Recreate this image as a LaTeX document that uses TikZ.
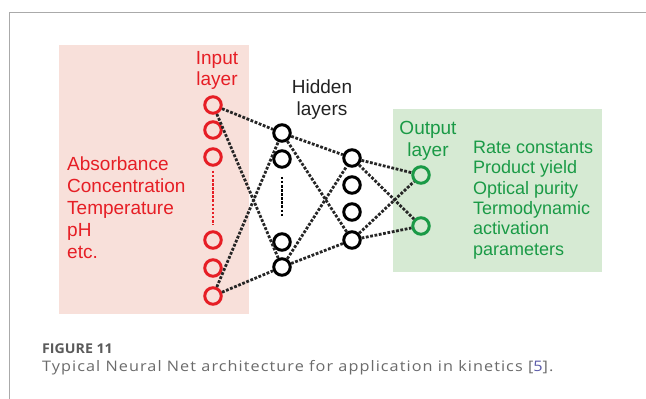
\documentclass[tikz,border=0pt]{standalone}
\usepackage{fontspec}
\setmainfont{Liberation Sans}
\newfontfamily\capfont[FakeStretch=1.12, LetterSpace=7.3]{Open Sans}
\newfontfamily\capheadfont[FakeStretch=1.05]{Open Sans}
\definecolor{inred}{HTML}{E61E25}
\definecolor{inbg}{HTML}{F8E0DA}
\definecolor{outgreen}{HTML}{1A9A46}
\definecolor{outbg}{HTML}{D6EAD3}
\definecolor{hidtxt}{HTML}{222222}
\definecolor{capgray}{HTML}{6B6B6B}
\definecolor{capdark}{HTML}{5A5A5A}
\definecolor{reflink}{HTML}{5A5AA8}
\definecolor{framegray}{HTML}{AAAAAA}
\tikzset{
  neuron/.style={circle, draw=#1, line width=3pt, minimum size=16.5pt, inner sep=0pt},
  link/.style={line width=2.8pt, dash pattern=on 2.8pt off 1.6pt, draw=black!85},
  gap/.style={line width=2.6pt, dash pattern=on 2.6pt off 1.5pt},
  bigtxt/.style={font=\fontsize{19}{22}\selectfont, align=center, inner sep=0pt},
}
\begin{document}
\begin{tikzpicture}[x=1pt, y=-1pt]
\useasboundingbox (0,0) rectangle (646,399);
% page frame
\draw[framegray, line width=1pt] (9.5,399) -- (9.5,12.5) -- (646,12.5);
% layer backgrounds
\fill[inbg] (59,45) rectangle (249,314);
\fill[outbg] (393,109) rectangle (602,272);

% input layer
\node[neuron=inred] (i1) at (213,105) {};
\node[neuron=inred] (i2) at (213,130) {};
\node[neuron=inred] (i3) at (213,157) {};
\node[neuron=inred] (i4) at (213,240) {};
\node[neuron=inred] (i5) at (213,268) {};
\node[neuron=inred] (i6) at (213,296) {};
\draw[gap, inred] ([yshift=-4pt]i3.south) coordinate (ig1) -- ([yshift=5pt]i4.north) coordinate (ig2);

% first hidden layer
\node[neuron=black] (a1) at (282,133) {};
\node[neuron=black] (a2) at (282,159) {};
\node[neuron=black] (a3) at (282,242) {};
\node[neuron=black] (a4) at (282,267) {};
\draw[gap, black] ([yshift=-8pt]a2.south) coordinate (ag1) -- ([yshift=15pt]a3.north) coordinate (ag2);

% second hidden layer
\node[neuron=black] (b1) at (352,158) {};
\node[neuron=black] (b2) at (352,185) {};
\node[neuron=black] (b3) at (352,212) {};
\node[neuron=black] (b4) at (352,240) {};

% output layer
\node[neuron=outgreen] (o1) at (421,175) {};
\node[neuron=outgreen] (o2) at (421,226) {};

% connections
\foreach \s in {i1,i6} \foreach \t in {a1,a4} \draw[link] (\s) -- (\t);
\foreach \s in {a1,a4} \foreach \t in {b1,b4} \draw[link] (\s) -- (\t);
\foreach \s in {b1,b4} \foreach \t in {o1,o2} \draw[link] (\s) -- (\t);

% labels
\node[bigtxt, text=inred] (inlab) at (217,70.5) {Input\\[-1pt]layer};
\node[bigtxt, text=hidtxt] (hidlab) at (322,100) {Hidden\\layers};
\node[bigtxt, text=outgreen] (outlab) at (428,141) {Output\\layer};
\node[bigtxt, text=inred, align=left, anchor=west] (invars) at (67,207.5)
  {Absorbance\\Concentration\\Temperature\\pH\\etc.};
\node[font=\fontsize{18}{20.4}\selectfont, inner sep=0pt, text=outgreen, align=left, anchor=west] (outvars) at (473,200)
  {Rate constants\\Product yield\\Optical purity\\Termodynamic\\activation\\parameters};

% caption
\node[font=\capheadfont\bfseries\fontsize{13.5}{15}\selectfont, text=capdark, anchor=base west, inner sep=0pt] (capnum) at (42,353) {FIGURE 11};
\node[font=\capfont\fontsize{14.5}{16}\selectfont, text=capgray, anchor=base west, inner sep=0pt] (captext) at (42,371)
  {Typical Neural Net architecture for application in kinetics [\textcolor{reflink}{5}].};
\end{tikzpicture}
\end{document}
